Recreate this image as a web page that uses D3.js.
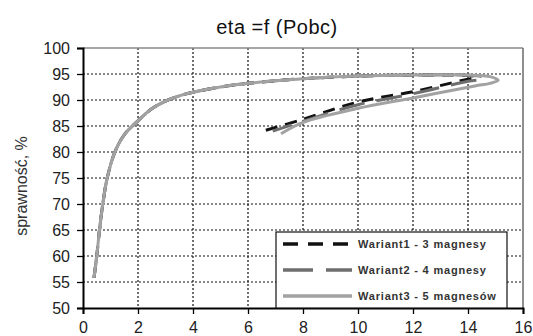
<!DOCTYPE html>
<html>
<head>
<meta charset="utf-8">
<script src="https://cdn.jsdelivr.net/npm/d3@7"></script>
<style>
  body { margin: 0; background: #fff; }
  svg { display: block; font-family: "Liberation Sans", Arial, sans-serif; }
</style>
</head>
<body>
<div id="chart"></div>
<script>
// efficiency vs output power, three magnet variants
const xTicks = [0, 2, 4, 6, 8, 10, 12, 14, 16];
const yTicks = [50, 55, 60, 65, 70, 75, 80, 85, 90, 95, 100];

const rising = [
  [0.4, 55.8], [0.5, 60], [0.6, 65], [0.72, 70], [0.88, 75], [1.16, 80],
  [1.5, 83.3], [2, 86], [2.5, 88.3], [3, 89.8], [3.5, 90.8], [4, 91.5],
  [5, 92.5], [6, 93.2], [7, 93.7], [8, 94.1], [10, 94.6], [12, 94.8]
];
const wariant1 = rising.concat([
  [13.5, 94.8], [14.2, 94.6], [14.3, 94.3], [14, 94.0], [12, 91.6],
  [10, 89.6], [8, 86.3], [6.6, 84.1]
]);
const wariant2 = rising.concat([
  [13.8, 94.8], [14.5, 94.5], [14.6, 94.1], [14, 93.6], [12, 91.2],
  [10, 89.1], [8, 85.9], [6.9, 84.0]
]);
const wariant3 = rising.concat([
  [14, 94.8], [14.8, 94.5], [15.1, 93.8], [14.8, 93.2], [14.25, 92.7],
  [12, 90.4], [10, 88.4], [8, 85.7], [7.2, 83.5]
]);

const seriesNames = ['Wariant1 - 3 magnesy', 'Wariant2 - 4 magnesy', 'Wariant3 - 5 magnesów'];
const seriesData = [wariant1, wariant2, wariant3];
const seriesColors = ['#111', '#6e6e6e', '#a2a2a2'];
const seriesDash = ['12,8', '26,12', null];

const W = 533, H = 336;
const margin = { top: 48, right: 10, bottom: 28, left: 83 };
const width = 523 - margin.left;
const height = 308 - margin.top;

const svg = d3.select('#chart').append('svg')
  .attr('width', W)
  .attr('height', H);

svg.append('rect').attr('width', W).attr('height', H).attr('fill', '#fff');

const g = svg.append('g')
  .attr('transform', `translate(${margin.left},${margin.top})`);

const x = d3.scaleLinear().domain([0, 16]).range([0, width]);
const y = d3.scaleLinear().domain([50, 100]).range([height, 0]);

// grid
g.selectAll('.hgrid')
  .data(yTicks.filter(d => d > 50 && d < 100))
  .enter().append('line')
  .attr('x1', 0).attr('x2', width)
  .attr('y1', d => y(d)).attr('y2', d => y(d))
  .attr('stroke', '#111').attr('stroke-width', 1.2)
  .attr('stroke-dasharray', '2,2');

g.selectAll('.vgrid')
  .data(xTicks.filter(d => d > 0 && d < 16))
  .enter().append('line')
  .attr('y1', 0).attr('y2', height)
  .attr('x1', d => x(d)).attr('x2', d => x(d))
  .attr('stroke', '#111').attr('stroke-width', 1.2)
  .attr('stroke-dasharray', '2,2');

// frame top/right
g.append('line').attr('x1', 0).attr('x2', width).attr('y1', 0).attr('y2', 0)
  .attr('stroke', '#8a8a8a').attr('stroke-width', 1.5);
g.append('line').attr('x1', width).attr('x2', width).attr('y1', 0).attr('y2', height)
  .attr('stroke', '#6a6a6a').attr('stroke-width', 1.5);

// curves
const line = d3.line()
  .x(d => x(d[0]))
  .y(d => y(d[1]))
  .curve(d3.curveCatmullRom.alpha(0.5));

seriesData.forEach((data, i) => {
  g.append('path')
    .attr('d', line(data))
    .attr('fill', 'none')
    .attr('stroke', seriesColors[i])
    .attr('stroke-width', 3)
    .attr('stroke-dasharray', seriesDash[i]);
});

// axes
const yAxis = g.append('g')
  .call(d3.axisLeft(y).tickValues(yTicks).tickSize(6).tickPadding(6));
const xAxis = g.append('g')
  .attr('transform', `translate(0,${height})`)
  .call(d3.axisBottom(x).tickValues(xTicks).tickSize(6).tickPadding(6));

[xAxis, yAxis].forEach(a => {
  a.select('.domain').attr('stroke', '#000').attr('stroke-width', 2);
  a.selectAll('.tick line').attr('stroke', '#000').attr('stroke-width', 1.3);
  a.selectAll('.tick text')
    .attr('font-size', '16px')
    .attr('fill', '#222')
    .attr('font-family', '"Liberation Sans", Arial, sans-serif');
});
yAxis.selectAll('.tick text').attr('x', -13);
xAxis.selectAll('.tick text').attr('y', 14);

// title
svg.append('text')
  .attr('x', 277).attr('y', 34)
  .attr('text-anchor', 'middle')
  .attr('font-size', '20px')
  .attr('letter-spacing', '0.5px')
  .attr('fill', '#111')
  .text('eta =f (Pobc)');

// y label
svg.append('text')
  .attr('transform', 'translate(27,186) rotate(-90)')
  .attr('text-anchor', 'middle')
  .attr('font-size', '16px')
  .attr('fill', '#333')
  .text('sprawność, %');

// legend
const legend = svg.append('g').attr('transform', 'translate(276,232)');
legend.append('rect')
  .attr('width', 231).attr('height', 76)
  .attr('fill', '#fff').attr('stroke', '#111').attr('stroke-width', 1.2);

seriesNames.forEach((name, i) => {
  const ly = 12 + i * 26;
  legend.append('line')
    .attr('x1', 7).attr('x2', 76)
    .attr('y1', ly).attr('y2', ly)
    .attr('stroke', seriesColors[i])
    .attr('stroke-width', 3.5)
    .attr('stroke-dasharray', i === 0 ? '15,10' : i === 1 ? '30,13' : null);
  legend.append('text')
    .attr('x', 82).attr('y', ly + 4)
    .attr('font-size', '11px')
    .attr('font-weight', 'bold')
    .attr('letter-spacing', '0.8px')
    .attr('fill', '#333')
    .text(name);
});
</script>
</body>
</html>
